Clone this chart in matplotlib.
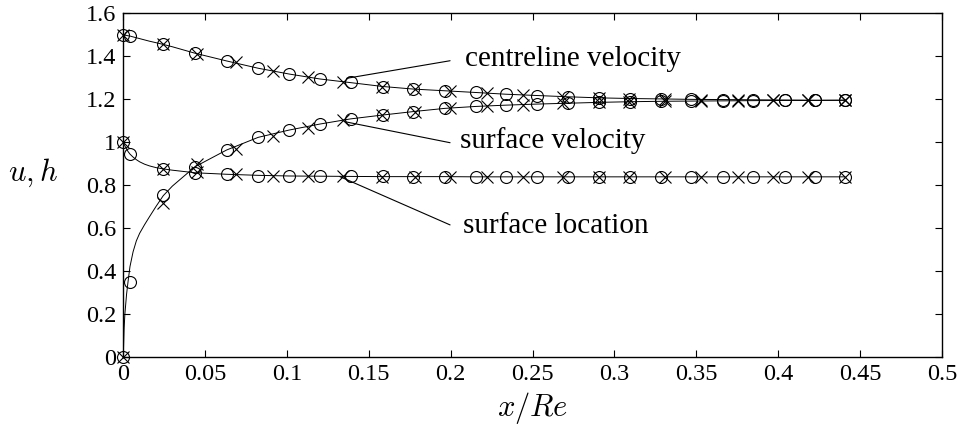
import matplotlib
matplotlib.use("Agg")
import matplotlib.pyplot as plt

plt.rcParams["font.family"] = ["Liberation Serif", "DejaVu Serif"]
plt.rcParams["mathtext.fontset"] = "cm"

# ---------------------------------------------------------------------------
# Data
# ---------------------------------------------------------------------------

# solid reference curves
line_x = [0.0, 0.0005, 0.001, 0.002, 0.003, 0.0041, 0.006, 0.008, 0.010, 0.013,
          0.016, 0.020, 0.0244, 0.030, 0.0438, 0.0631, 0.0824, 0.1013, 0.1201,
          0.1388, 0.1584, 0.1770, 0.1964, 0.2153, 0.2336, 0.2524, 0.2717,
          0.2906, 0.3093, 0.3287, 0.3470, 0.3663, 0.3846, 0.4040, 0.4223, 0.4406]
line_centre = [1.500, 1.499, 1.498, 1.497, 1.495, 1.494, 1.490, 1.486, 1.482, 1.476,
               1.470, 1.463, 1.455, 1.444, 1.414, 1.378, 1.344, 1.317, 1.294,
               1.277, 1.259, 1.247, 1.239, 1.231, 1.223, 1.217, 1.211,
               1.206, 1.203, 1.201, 1.199, 1.198, 1.197, 1.196, 1.195, 1.195]
line_surf_u = [0.000, 0.130, 0.200, 0.290, 0.355, 0.420, 0.489, 0.540, 0.575, 0.615,
               0.652, 0.700, 0.750, 0.795, 0.885, 0.963, 1.022, 1.056, 1.084,
               1.108, 1.126, 1.142, 1.157, 1.166, 1.172, 1.177, 1.181,
               1.185, 1.188, 1.190, 1.191, 1.192, 1.193, 1.194, 1.194, 1.195]
line_surf_h = [1.000, 0.990, 0.982, 0.968, 0.955, 0.944, 0.930, 0.918, 0.908, 0.897,
               0.889, 0.881, 0.875, 0.869, 0.857, 0.850, 0.845, 0.842, 0.841,
               0.840, 0.839, 0.839, 0.839, 0.838, 0.838, 0.838, 0.838,
               0.838, 0.838, 0.838, 0.838, 0.838, 0.838, 0.838, 0.838, 0.838]

# circle markers
circ_x = [0.0, 0.0041, 0.0244, 0.0438, 0.0631, 0.0824, 0.1013, 0.1201, 0.1388,
          0.1584, 0.1770, 0.1964, 0.2153, 0.2336, 0.2524, 0.2717, 0.2906, 0.3093,
          0.3287, 0.3470, 0.3663, 0.3846, 0.4040, 0.4223, 0.4406]
circ_centre = [1.500, 1.494, 1.456, 1.414, 1.378, 1.344, 1.317, 1.294, 1.279,
               1.258, 1.247, 1.240, 1.232, 1.223, 1.216, 1.212, 1.206, 1.203,
               1.201, 1.199, 1.198, 1.197, 1.196, 1.195, 1.195]
circ_surf_u = [0.000, 0.347, 0.753, 0.885, 0.963, 1.022, 1.056, 1.084, 1.108,
               1.126, 1.142, 1.157, 1.166, 1.172, 1.177, 1.181, 1.185, 1.188,
               1.190, 1.191, 1.192, 1.193, 1.194, 1.194, 1.195]
circ_surf_h = [1.000, 0.943, 0.875, 0.857, 0.850, 0.844, 0.842, 0.841, 0.840,
               0.840, 0.839, 0.839, 0.839, 0.838, 0.838, 0.838, 0.838, 0.838,
               0.838, 0.838, 0.838, 0.838, 0.838, 0.838, 0.838]

# cross markers
cross_x = [0.0, 0.0244, 0.0448, 0.0688, 0.0912, 0.1129, 0.1343, 0.1580, 0.1780,
           0.1994, 0.2222, 0.2442, 0.2686, 0.2906, 0.3090, 0.3307, 0.3531, 0.3755,
           0.3968, 0.4182, 0.4406]
cross_centre = [1.500, 1.456, 1.412, 1.375, 1.333, 1.305, 1.281, 1.258, 1.247,
                1.240, 1.227, 1.218, 1.212, 1.205, 1.203, 1.200, 1.198, 1.197,
                1.196, 1.195, 1.195]
cross_surf_u = [0.000, 0.718, 0.898, 0.968, 1.028, 1.067, 1.103, 1.126, 1.142,
                1.157, 1.168, 1.174, 1.181, 1.186, 1.189, 1.191, 1.192, 1.193,
                1.194, 1.194, 1.195]
cross_surf_h = [1.000, 0.875, 0.862, 0.851, 0.844, 0.841, 0.840, 0.839, 0.839,
                0.839, 0.838, 0.838, 0.838, 0.838, 0.838, 0.838, 0.838, 0.838,
                0.838, 0.838, 0.838]

x_ticks = [0, 0.05, 0.1, 0.15, 0.2, 0.25, 0.3, 0.35, 0.4, 0.45, 0.5]
x_tick_labels = ["0", "0.05", "0.1", "0.15", "0.2", "0.25", "0.3", "0.35", "0.4", "0.45", "0.5"]
y_ticks = [0, 0.2, 0.4, 0.6, 0.8, 1.0, 1.2, 1.4, 1.6]
y_tick_labels = ["0", "0.2", "0.4", "0.6", "0.8", "1", "1.2", "1.4", "1.6"]

# (label, point on curve, end of leader, text anchor)
labels = [
    ("centreline velocity", (0.1364, 1.297), (0.1996, 1.379), (0.2086, 1.356)),
    ("surface velocity",    (0.1353, 1.095), (0.1996, 0.997), (0.2056, 0.971)),
    ("surface location",    (0.1323, 0.839), (0.1996, 0.614), (0.2072, 0.575)),
]

# ---------------------------------------------------------------------------
# Figure
# ---------------------------------------------------------------------------

fig = plt.figure(figsize=(9.6, 4.33), dpi=100, facecolor="white")
ax = fig.add_axes([0.1284, 0.1762, 0.8528, 0.7931])

LW = 0.7
for ys in (line_centre, line_surf_u, line_surf_h):
    ax.plot(line_x, ys, color="black", lw=LW, zorder=2)

mk = dict(linestyle="none", color="black", markersize=8.6, markeredgewidth=0.8,
          clip_on=False, zorder=3)
for ys in (circ_centre, circ_surf_u, circ_surf_h):
    ax.plot(circ_x, ys, marker="o", markerfacecolor="none", **mk)
for ys in (cross_centre, cross_surf_u, cross_surf_h):
    ax.plot(cross_x, ys, marker="x", **mk)

for text, p0, p1, pt in labels:
    ax.annotate("", xy=p0, xytext=p1,
                arrowprops=dict(arrowstyle="-", lw=0.8, color="black",
                                shrinkA=0, shrinkB=0))
    ax.text(pt[0], pt[1], text, fontsize=21, ha="left", va="baseline")

ax.set_xlim(0, 0.5)
ax.set_ylim(0, 1.6)
ax.set_xticks(x_ticks)
ax.set_xticklabels(x_tick_labels)
ax.set_yticks(y_ticks)
ax.set_yticklabels(y_tick_labels)
ax.tick_params(direction="in", top=True, right=True, length=5, width=0.8,
               labelsize=17.5, pad=5)
for s in ax.spines.values():
    s.set_linewidth(1.0)

ax.set_xlabel(r"$x/Re$", fontsize=22, va="center")
ax.xaxis.set_label_coords(0.5, -0.149)
ax.set_ylabel(r"$u, h$", fontsize=22, rotation=0, ha="center", va="center")
ax.yaxis.set_label_coords(-0.110, 0.535)

fig.savefig("out.png", dpi=100, facecolor="white")
